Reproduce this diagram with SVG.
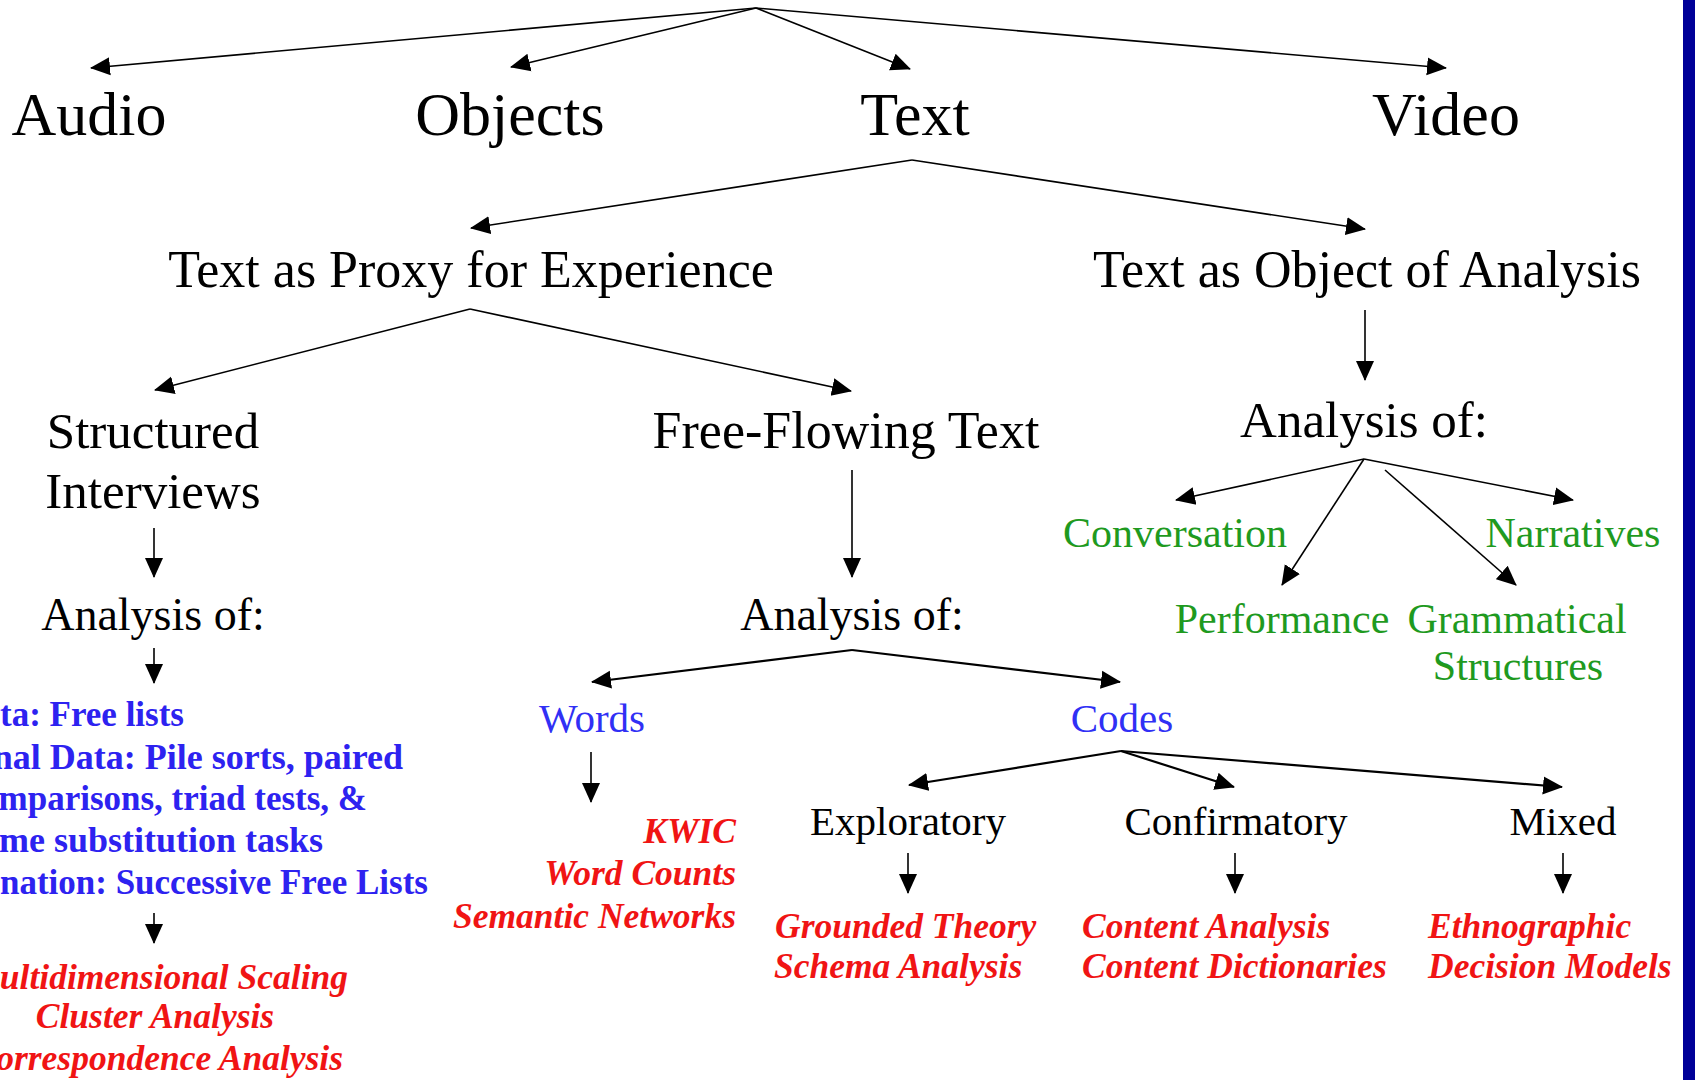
<svg xmlns="http://www.w3.org/2000/svg" width="1695" height="1080" viewBox="0 0 1695 1080">
<style>
.t{font-family:"Liberation Serif","Times New Roman",serif;fill:#000;}
.c{text-anchor:middle;}
.e{text-anchor:end;}
.top{font-size:62px;}
.l2{font-size:52px;}
.l3{font-size:51px;}
.an{font-size:46px;}
.sub{font-size:41px;}
.grn{font-size:42px;fill:#1f9a1f;}
.blu{font-size:41px;fill:#3030f5;}
.bb{font-size:35px;font-weight:bold;fill:#2d22f0;}
.bw{font-size:36px;}
.red{font-size:35.5px;font-weight:bold;font-style:italic;fill:#f01414;}
.ln{stroke:#000;stroke-width:1.6;fill:none;marker-end:url(#ah);}
.lt{stroke:#000;stroke-width:2.2;fill:none;marker-end:url(#ah);}
</style>
<defs>
<marker id="ah" markerUnits="userSpaceOnUse" markerWidth="20" markerHeight="20" viewBox="0 0 20 18" refX="19" refY="9" orient="auto">
<path d="M0,0 L20,9 L0,18 z" fill="#000"/>
</marker>
</defs>
<rect x="0" y="0" width="1695" height="1080" fill="#fff"/>
<rect x="1683" y="0" width="12" height="1080" fill="#000098"/>

<g id="connectors">
<line class="ln" x1="756" y1="8" x2="91" y2="68"/>
<line class="ln" x1="756" y1="8" x2="511" y2="67"/>
<line class="ln" x1="756" y1="8" x2="910" y2="69"/>
<line class="ln" x1="756" y1="8" x2="1446" y2="68"/>
<line class="ln" x1="912" y1="160" x2="471" y2="228"/>
<line class="ln" x1="912" y1="160" x2="1365" y2="229"/>
<line class="ln" x1="470" y1="309" x2="155" y2="390"/>
<line class="ln" x1="470" y1="309" x2="851" y2="391"/>
<line class="ln" x1="1365" y1="310" x2="1365" y2="380"/>
<line class="ln" x1="154" y1="528" x2="154" y2="577"/>
<line class="ln" x1="154" y1="648" x2="154" y2="683"/>
<line class="ln" x1="154" y1="913" x2="154" y2="943"/>
<line class="ln" x1="852" y1="470" x2="852" y2="577"/>
<line class="lt" x1="852" y1="650" x2="592" y2="682"/>
<line class="lt" x1="852" y1="650" x2="1120" y2="682"/>
<line class="ln" x1="591" y1="752" x2="591" y2="802"/>
<line class="lt" x1="1121" y1="751" x2="909" y2="785"/>
<line class="lt" x1="1121" y1="751" x2="1234" y2="787"/>
<line class="lt" x1="1121" y1="751" x2="1562" y2="787"/>
<line class="ln" x1="908" y1="853" x2="908" y2="893"/>
<line class="ln" x1="1235" y1="853" x2="1235" y2="893"/>
<line class="ln" x1="1563" y1="853" x2="1563" y2="893"/>
<line class="ln" x1="1364" y1="459" x2="1176" y2="500"/>
<line class="ln" x1="1364" y1="459" x2="1282" y2="585"/>
<line class="ln" x1="1385" y1="470" x2="1516" y2="585"/>
<line class="ln" x1="1364" y1="459" x2="1573" y2="500"/>
</g>

<g id="audio"><text class="t c top" x="89" y="135">Audio</text></g>
<g id="objects"><text class="t c top" x="510" y="135">Objects</text></g>
<g id="text"><text class="t c top" x="915" y="135">Text</text></g>
<g id="video"><text class="t c top" x="1446" y="135">Video</text></g>

<g id="proxy"><text class="t c l2" x="471" y="287">Text as Proxy for Experience</text></g>
<g id="object-analysis"><text class="t c l2" x="1367" y="287">Text as Object of Analysis</text></g>

<g id="structured"><text class="t c l3" x="153" y="448">Structured</text><text class="t c l3" x="153" y="508">Interviews</text></g>
<g id="free-flowing"><text class="t c l2" x="846" y="448">Free-Flowing Text</text></g>

<g id="analysis-left"><text class="t c an" x="153" y="630">Analysis of:</text></g>
<g id="analysis-mid"><text class="t c an" x="852" y="630">Analysis of:</text></g>
<g id="analysis-right"><text class="t c l3" x="1364" y="437">Analysis of:</text></g>

<g id="data-types">
<text class="t e bb" x="184" y="726">ta: Free lists</text>
<text class="t e bb bw" x="403" y="769">nal Data: Pile sorts, paired</text>
<text class="t e bb" x="367" y="810">mparisons, triad tests, &amp;</text>
<text class="t e bb bw" x="323" y="852">me substitution tasks</text>
<text class="t e bb" x="428" y="894">nation: Successive Free Lists</text>
</g>
<g id="methods-left">
<text class="t e red" x="348" y="989">ultidimensional Scaling</text>
<text class="t c red" x="155" y="1028">Cluster Analysis</text>
<text class="t e red" x="343" y="1070">orrespondence Analysis</text>
</g>

<g id="words"><text class="t c blu" x="592" y="732">Words</text></g>
<g id="codes"><text class="t c blu" x="1122" y="732">Codes</text></g>
<g id="words-methods">
<text class="t e red" x="736" y="843">KWIC</text>
<text class="t e red" x="736" y="885">Word Counts</text>
<text class="t e red" x="736" y="928">Semantic Networks</text>
</g>

<g id="exploratory"><text class="t c sub" x="908" y="835">Exploratory</text></g>
<g id="confirmatory"><text class="t c sub" x="1236" y="835">Confirmatory</text></g>
<g id="mixed"><text class="t c sub" x="1563" y="835">Mixed</text></g>

<g id="exploratory-methods">
<text class="t red" x="775" y="938">Grounded Theory</text>
<text class="t red" x="774" y="978">Schema Analysis</text>
</g>
<g id="confirmatory-methods">
<text class="t red" x="1082" y="938">Content Analysis</text>
<text class="t red" x="1082" y="978">Content Dictionaries</text>
</g>
<g id="mixed-methods">
<text class="t red" x="1428" y="938">Ethnographic</text>
<text class="t red" x="1428" y="978">Decision Models</text>
</g>

<g id="conversation"><text class="t c grn" x="1175" y="547">Conversation</text></g>
<g id="narratives"><text class="t c grn" x="1573" y="547">Narratives</text></g>
<g id="performance"><text class="t c grn" x="1282" y="633">Performance</text></g>
<g id="grammatical"><text class="t c grn" x="1517" y="633">Grammatical</text><text class="t c grn" x="1518" y="680">Structures</text></g>
</svg>
